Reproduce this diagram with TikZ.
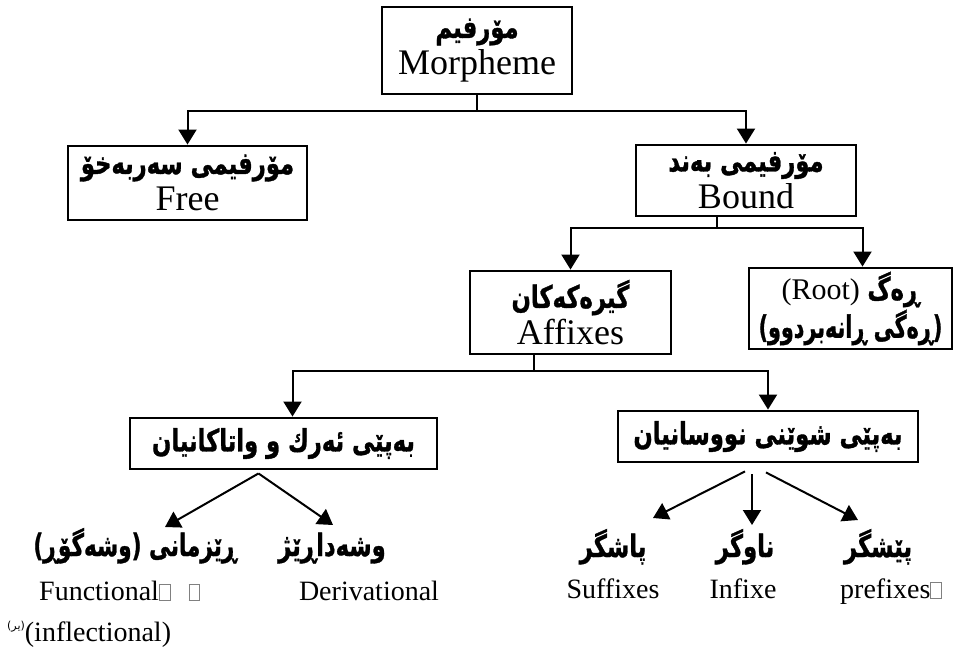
\documentclass[tikz,border=0pt]{standalone}
\usepackage{fontspec}
\usepackage{graphicx}
\setmainfont{Liberation Serif}
\newfontfamily\arfont[Script=Arabic, BoldFeatures={FakeBold=1.2}]{DejaVu Sans}
\TeXXeTstate=1
\usetikzlibrary{arrows.meta}
\newcommand\AR[2][1.03]{\scalebox{#1}[1.4]{\arfont\bfseries\fontsize{22}{26}\selectfont\beginR #2\endR}}
\newcommand\tofu{\textcolor{gray}{\fboxsep=0pt\fboxrule=0.8pt\fbox{\rule{0pt}{15pt}\hspace{10pt}}}}
\begin{document}
\begin{tikzpicture}[x=1pt,y=-1pt,
  box/.style={draw, line width=2.9pt, inner sep=0pt, align=center, font=\fontsize{36}{37}\selectfont},
  arr/.style={line width=2pt, -{Triangle[length=15pt,width=18pt]}},
  lab/.style={inner sep=0pt, anchor=base, font=\fontsize{28}{30}\selectfont},
  arlab/.style={inner sep=0pt, anchor=base},
]
\fill[white] (0,0) rectangle (954,649);
\useasboundingbox (0,0) rectangle (954,649);

\node[box, minimum width=190pt, minimum height=87pt] (morph) at (477,50.5) {\AR{مۆرفیم}\\Morpheme};
\node[box, minimum width=239pt, minimum height=74pt] (free) at (187.5,183) {\AR{مۆرفیمی سەربەخۆ}\\Free};
\node[box, minimum width=220pt, minimum height=71pt] (bound) at (746,180.5) {\AR{مۆرفیمی بەند}\\Bound};
\node[box, minimum width=201pt, minimum height=83pt] (affix) at (570.5,312.5) {\AR{گیرەکەکان}\\Affixes};
\node[box, minimum width=203pt, minimum height=81pt, font=\fontsize{30}{38}\selectfont] (root) at (850.5,308.5)
  {(Root) \AR{ڕەگ}\\\AR[0.94]{(ڕەگی ڕانەبردوو)}};
\node[box, minimum width=307pt, minimum height=51pt] (byfunc) at (283.5,443.5) {\AR{بەپێی ئەرك و واتاكانیان}};
\node[box, minimum width=300pt, minimum height=51pt] (bypos) at (768,436.5) {\AR{بەپێی شوێنی نووسانیان}};

\node[arlab] (funcAr) at (135,556) {\AR[0.98]{ڕێزمانی (وشەگۆڕ)}};
\node[arlab] (derivAr) at (332,556) {\AR{وشەداڕێژ}};
\node[lab, anchor=base west] (funcEn) at (39,600) {Functional\tofu\hspace{18pt}\tofu};
\node[lab] (derivEn) at (369,600) {Derivational};
\node[lab, anchor=base west] (inflEn) at (7,641) {\raisebox{12pt}{\arfont\fontsize{11}{13}\selectfont\beginR(یر)\endR}(inflectional)};

\node[arlab] (sufAr) at (613,557) {\AR{پاشگر}};
\node[arlab] (infAr) at (745,557) {\AR{ناوگر}};
\node[arlab] (preAr) at (878,557) {\AR{پێشگر}};
\node[lab] (sufEn) at (613,598) {Suffixes};
\node[lab] (infEn) at (743,598) {Infixe};
\node[lab, anchor=base west] (preEn) at (840,598) {prefixes\tofu};

\draw[arr] (morph.south) -- ++(0,16) -| (free.north);
\draw[arr] (morph.south) -- ++(0,16) -| (bound.north);
\draw[arr] ([xshift=-29pt]bound.south) -- ++(0,11) -| (affix.north);
\draw[arr] ([xshift=-29pt]bound.south) -- ++(0,11) -| ([xshift=12pt]root.north);
\draw[arr] ([xshift=-37pt]affix.south) -- ++(0,16) -| ([xshift=9pt]byfunc.north);
\draw[arr] ([xshift=-37pt]affix.south) -- ++(0,16) -| (bypos.north);

\coordinate (tf1) at (165,527);
\coordinate (tf2) at (333,525);
\draw[arr] ([xshift=-25pt,yshift=-3pt]byfunc.south) -- (tf1);
\draw[arr] ([xshift=-25pt,yshift=-3pt]byfunc.south) -- (tf2);
\coordinate (tp1) at (653,518);
\coordinate (tp2) at (752,525);
\coordinate (tp3) at (858,520);
\draw[arr] ([xshift=-23pt,yshift=-8pt]bypos.south) -- (tp1);
\draw[arr] ([xshift=-16pt,yshift=-11pt]bypos.south) -- (tp2);
\draw[arr] ([xshift=-2pt,yshift=-9pt]bypos.south) -- (tp3);
\end{tikzpicture}
\end{document}
